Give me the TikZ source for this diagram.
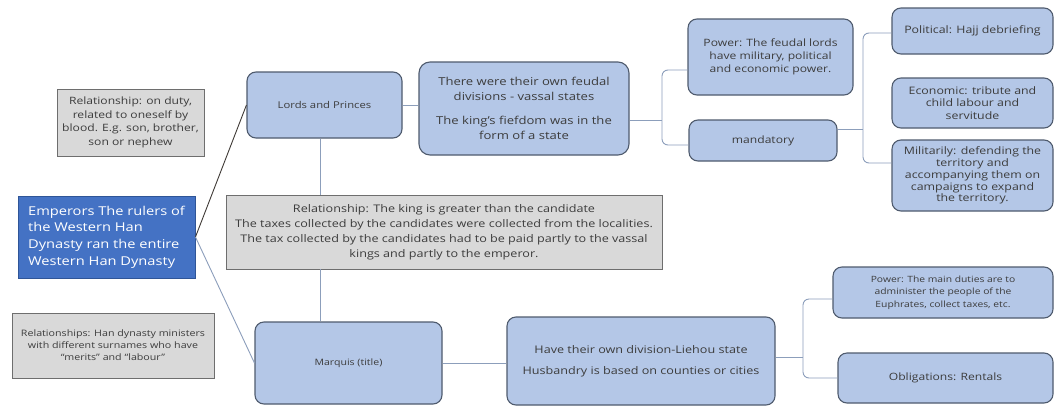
\documentclass[tikz,border=0pt]{standalone}
\usepackage{fontspec}
\setmainfont{Open Sans}[FakeStretch=1.2]
\definecolor{boxblue}{HTML}{B4C7E7}
\definecolor{boxedge}{HTML}{4F5B6E}
\definecolor{empblue}{HTML}{4472C4}
\definecolor{empedge}{HTML}{2F5597}
\definecolor{notegray}{HTML}{D9D9D9}
\definecolor{noteedge}{HTML}{6E6E6E}
\definecolor{ink}{HTML}{3C3C3C}
\definecolor{wirecol}{HTML}{8C9EBB}
\definecolor{darkwire}{HTML}{3F3A36}

\newcommand{\fs}[2]{\fontsize{#1}{#2}\selectfont}

\tikzset{
  topic/.style={draw=boxedge, fill=boxblue, line width=1.1pt, rounded corners=9pt,
    text=ink, align=center, inner sep=0pt, font=\fs{10.3}{12.5}},
  note/.style={draw=noteedge, fill=notegray, line width=0.9pt,
    text=ink, align=center, inner sep=0pt, font=\fs{10.1}{13.7}},
  wire/.style={draw=wirecol, line width=0.9pt},
  brace/.style={draw=wirecol, line width=0.9pt, rounded corners=6pt},
}

\begin{document}
\begin{tikzpicture}[x=1pt, y=-1pt]
\useasboundingbox (0,0) rectangle (1054,407);
\fill[white] (0,0) rectangle (1054,407);

% emperor and side notes
\node[draw=empedge, fill=empblue, line width=0.9pt, text=white, align=left, inner sep=0pt,
  font=\fs{12.2}{16.8}, minimum width=177pt, minimum height=82pt]
  (emp) at (106.5,237) {Emperors The rulers of\\the Western Han\\Dynasty ran the entire\\Western Han Dynasty};
\node[note, minimum width=147pt, minimum height=67pt] (relA) at (130.5,122.5)
  {Relationship: on duty,\\related to oneself by\\blood. E.g. son, brother,\\son or nephew};
\node[note, font=\fs{8.9}{12}, minimum width=202pt, minimum height=65pt] (relB) at (113,345.5)
  {Relationships: Han dynasty ministers\\with different surnames who have\\``merits'' and ``labour''};

% central ranks
\node[topic, font=\fs{9.4}{13}, minimum width=155pt, minimum height=66pt] (lords) at (324.5,105) {Lords and Princes};
\node[note, font=\fs{10.5}{15}, minimum width=436pt, minimum height=74pt] (mid) at (444,232)
  {Relationship: The king is greater than the candidate\\
   The taxes collected by the candidates were collected from the localities.\\
   The tax collected by the candidates had to be paid partly to the vassal\\
   kings and partly to the emperor.};
\node[topic, font=\fs{8.8}{13}, minimum width=187pt, minimum height=82pt] (marq) at (348.5,363) {Marquis (title)};

% lords branch
\node[topic, font=\fs{10.9}{15}, rounded corners=11pt, minimum width=210pt, minimum height=93pt] (feu) at (524,108.5)
  {There were their own feudal\\divisions - vassal states\\[9pt]The king's fiefdom was in the\\form of a state};
\node[topic, font=\fs{10.1}{13}, minimum width=165pt, minimum height=76pt] (pow) at (770.5,57)
  {Power: The feudal lords\\have military, political\\and economic power.};
\node[topic, font=\fs{10.1}{13}, minimum width=148pt, minimum height=41pt] (mand) at (763,140.5) {mandatory};
\node[topic, minimum width=161pt, minimum height=46pt] (pol) at (972.5,31) {Political: Hajj debriefing};
\node[topic, minimum width=161pt, minimum height=50pt] (eco) at (972.5,103)
  {Economic: tribute and\\child labour and\\servitude};
\node[topic, font=\fs{10.3}{11.8}, minimum width=161pt, minimum height=71pt] (mil) at (972.5,175.5)
  {Militarily: defending the\\territory and\\accompanying them on\\campaigns to expand\\the territory.};

% marquis branch
\node[topic, font=\fs{10.5}{14}, minimum width=268pt, minimum height=88pt] (lie) at (641,361)
  {Have their own division-Liehou state\\[7pt]Husbandry is based on counties or cities};
\node[topic, font=\fs{8.6}{12.5}, minimum width=220pt, minimum height=51pt] (pmain) at (943,292.5)
  {Power: The main duties are to\\administer the people of the\\Euphrates, collect taxes, etc.};
\node[topic, font=\fs{10.1}{13}, minimum width=215pt, minimum height=50pt] (obl) at (945.5,378) {Obligations: Rentals};

% bracket junctions
\coordinate (j1) at (662,120);
\coordinate (j2) at (863,129);
\coordinate (j3) at (803,357);

% connectors
\draw[darkwire, line width=0.9pt] (emp.east) -- (lords.west);
\draw[wire] (emp.east) -- (marq.west);
\draw[wire] ([xshift=-4pt]lords.south) -- ([xshift=-4pt]lords.south |- mid.north);
\draw[wire] ([xshift=-4pt]lords.south |- mid.south) -- ([xshift=-4pt]lords.south |- marq.north);
\draw[wire] (lords.east) -- (lords.east -| feu.west);
\draw[wire] (marq.east) -- (marq.east -| lie.west);

\draw[wire] ([yshift=-11.5pt]feu.east) -- (j1);
\draw[brace] ([yshift=-13pt]pow.west) -| (j1) |- ([yshift=-4.5pt]mand.west);
\draw[wire] ([yshift=11.5pt]mand.east) -- (j2);
\draw[brace] ([yshift=-2pt]pol.west) -| (j2) |- ([yshift=12.5pt]mil.west);
\draw[wire] ([yshift=4pt]lie.east) -- (j3);
\draw[brace] ([yshift=-6.5pt]pmain.west) -| (j3) |- (obl.west);
\end{tikzpicture}
\end{document}
